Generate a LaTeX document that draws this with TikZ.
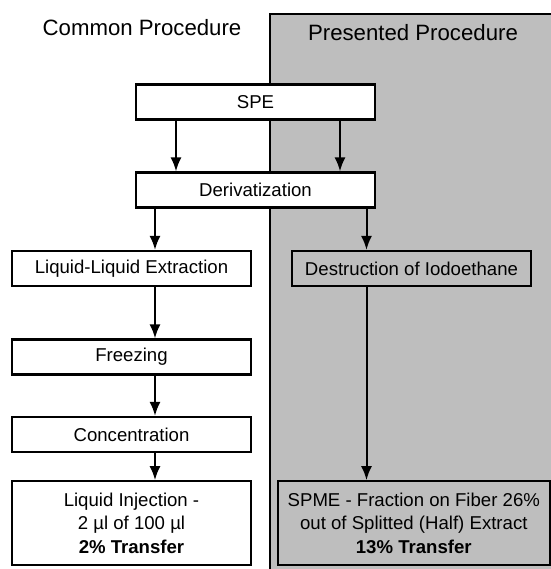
\documentclass[tikz,border=0pt]{standalone}
\usepackage{fontspec}
\setmainfont{Liberation Sans}
\usetikzlibrary{arrows.meta}
\definecolor{panelgray}{RGB}{190,190,190}
\begin{document}
\begin{tikzpicture}[x=0.5pt,y=-0.5pt,
		stepbox/.style={draw,fill=white,line width=1.1pt,minimum width=119.5pt,minimum height=17.5pt,inner sep=0pt,align=center,font=\fontsize{9.3}{11.8}\selectfont},
		bigbox/.style={stepbox,minimum height=41.75pt},
		arr/.style={line width=1pt,-{Latex[length=7pt,width=5.5pt]}},
		title/.style={font=\fontsize{11.1}{13}\selectfont}]
			\useasboundingbox (0,0) rectangle (551,569);
			\fill[white] (0,0) rectangle (551,569);
			\fill[panelgray] (270,14) rectangle (551,569);
			\draw[line width=1.1pt] (270,569) -- (270,14) -- (551,14);
			\node[title] (common) at (142,28) {Common Procedure};
			\node[title] (presented) at (413,33) {Presented Procedure};
			\node[stepbox] (spe) at (255.5,102) {SPE};
			\node[stepbox] (deriv) at (255.5,190) {Derivatization};
			\node[stepbox] (lle) at (131.5,268.5) {Liquid-Liquid Extraction};
			\node[stepbox] (freeze) at (131.5,357) {Freezing};
			\node[stepbox] (conc) at (131.5,434.5) {Concentration};
			\node[bigbox] (inject) at (131.5,523) {Liquid Injection -\\2 µl of 100 µl\\\textbf{2\% Transfer}};
			\node[stepbox,fill=panelgray] (destr) at (411.5,268.5) {Destruction of Iodoethane};
			\node[bigbox,fill=panelgray,minimum width=136pt] (spme) at (413.8,523) {SPME - Fraction on Fiber 26\%\\out of Splitted (Half) Extract\\\textbf{13\% Transfer}};
			\coordinate (spl) at (176,0);
			\coordinate (spr) at (340,0);
			\coordinate (lcol) at (155,0);
			\coordinate (rcol) at (366.5,0);
			\draw[arr] (spe.south -| spl) -- (deriv.north -| spl);
			\draw[arr] (spe.south -| spr) -- (deriv.north -| spr);
			\draw[arr] (deriv.south -| lcol) -- (lle.north -| lcol);
			\draw[arr] (lle.south -| lcol) -- (freeze.north -| lcol);
			\draw[arr] (freeze.south -| lcol) -- (conc.north -| lcol);
			\draw[arr] (conc.south -| lcol) -- (inject.north -| lcol);
			\draw[arr] (deriv.south -| rcol) -- (destr.north -| rcol);
			\draw[arr] (destr.south -| rcol) -- (spme.north -| rcol);
		\end{tikzpicture}
\end{document}
